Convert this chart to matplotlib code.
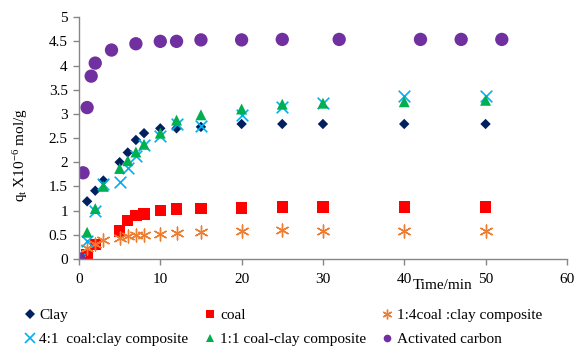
"""
Adsorption kinetics scatter: q_t vs time for six adsorbents
"""

import matplotlib
matplotlib.use('Agg')
import matplotlib.pyplot as plt  # type: ignore
from matplotlib.lines import Line2D  # type: ignore

plt.rcParams['font.family'] = ['Liberation Serif', 'DejaVu Serif']
plt.rcParams['mathtext.fontset'] = 'custom'
plt.rcParams['mathtext.rm'] = 'Liberation Serif'
plt.rcParams['mathtext.it'] = 'Liberation Serif:italic'

# --- data ---
clay_t = [0, 1, 2, 3, 5, 6, 7, 8, 10, 12, 15, 20, 25, 30, 40, 50]
clay_q = [0, 1.19, 1.41, 1.62, 2.0, 2.2, 2.46, 2.6, 2.7, 2.7, 2.73, 2.79, 2.79, 2.79, 2.79, 2.79]

coal_t = [0, 1, 2, 5, 6, 7, 8, 10, 12, 15, 20, 25, 30, 40, 50]
coal_q = [0, 0.08, 0.3, 0.58, 0.79, 0.9, 0.93, 1.0, 1.03, 1.04, 1.05, 1.07, 1.07, 1.07, 1.07]

c14_t = [0, 1, 2, 3, 5, 6, 7, 8, 10, 12, 15, 20, 25, 30, 40, 50]
c14_q = [0, 0.22, 0.3, 0.38, 0.44, 0.48, 0.5, 0.5, 0.52, 0.53, 0.55, 0.58, 0.59, 0.58, 0.58, 0.58]

c41_t = [0, 1, 2, 3, 5, 6, 7, 8, 10, 12, 15, 20, 25, 30, 40, 50]
c41_q = [0, 0.37, 1.0, 1.55, 1.6, 1.87, 2.13, 2.35, 2.55, 2.78, 2.74, 2.97, 3.14, 3.22, 3.36, 3.36]

c11_t = [0, 1, 2, 3, 5, 6, 7, 8, 10, 12, 15, 20, 25, 30, 40, 50]
c11_q = [0, 0.55, 1.04, 1.5, 1.87, 2.03, 2.21, 2.37, 2.6, 2.87, 2.98, 3.1, 3.2, 3.22, 3.25, 3.28]

ac_t = [0, 0.5, 1, 1.5, 2, 4, 7, 10, 12, 15, 20, 25, 32, 42, 47, 52]
ac_q = [0, 1.78, 3.13, 3.78, 4.05, 4.32, 4.45, 4.5, 4.5, 4.53, 4.53, 4.54, 4.54, 4.54, 4.54, 4.54]

x_ticks = [0, 10, 20, 30, 40, 50, 60]
y_ticks = [0, 0.5, 1, 1.5, 2, 2.5, 3, 3.5, 4, 4.5, 5]
y_tick_labels = ['0', '0.5', '1', '1.5', '2', '2.5', '3', '3.5', '4', '4.5', '5']

LINE_MARKERS = ('x', (6, 2, 0))

series = [
    ('Clay', clay_t, clay_q, dict(marker='D', s=28, color='#002060')),
    ('coal', coal_t, coal_q, dict(marker='s', s=68, color='#FF0000')),
    ('1:4coal :clay composite', c14_t, c14_q,
     dict(marker=(6, 2, 0), s=85, color='#ED7D31', linewidths=1.0)),
    ('4:1  coal:clay composite', c41_t, c41_q,
     dict(marker='x', s=70, color='#00B0F0', linewidths=1.2)),
    ('1:1 coal-clay composite', c11_t, c11_q, dict(marker='^', s=62, color='#00B050')),
    ('Activated carbon', ac_t, ac_q, dict(marker='o', s=92, color='#7030A0')),
]

fig = plt.figure(figsize=(5.85, 3.58), dpi=100)
ax = fig.add_axes([0.135, 0.277, 0.834, 0.675])

handles = []
for label, t, q, style in series:
    line_marker = style['marker'] in LINE_MARKERS
    ax.scatter(t, q, edgecolors=None if line_marker else 'none', **style)
    handles.append(Line2D([], [], linestyle='none', marker=style['marker'],
                          color=style['color'], markersize=7 if line_marker else 5.5,
                          markeredgewidth=style.get('linewidths', 1.0) if line_marker else 0,
                          label=label))

ax.set_xlim(0, 60)
ax.set_ylim(0, 5)
ax.set_xticks(x_ticks)
ax.set_yticks(y_ticks)
ax.set_yticklabels(y_tick_labels)
for side in ('top', 'right'):
    ax.spines[side].set_visible(False)
for side in ('left', 'bottom'):
    ax.spines[side].set_color('#868686')
    ax.spines[side].set_linewidth(1.0)
ax.tick_params(axis='both', colors='#868686', labelcolor='black', labelsize=11,
               length=4, width=1.0)
ax.tick_params(axis='x', pad=6)
ax.tick_params(axis='y', pad=4)

ax.set_ylabel(r'q$_\mathrm{t}$ X10$^{\mathrm{-6}}$ mol/g', fontsize=11)
ax.yaxis.set_label_coords(-0.1, 0.43)
ax.text(44.7, -0.11, 'Time/min', transform=ax.get_xaxis_transform(),
        ha='center', va='center', fontsize=11)

order = [0, 3, 1, 4, 2, 5]
fig.legend([handles[i] for i in order], [series[i][0] for i in order],
           ncol=3, loc='upper left', bbox_to_anchor=(0.04, 0.138), frameon=False,
           fontsize=11, handlelength=0.8, handletextpad=0.25, columnspacing=1.0,
           labelspacing=0.68, borderpad=0, borderaxespad=0)

fig.savefig('out.png', dpi=100)
